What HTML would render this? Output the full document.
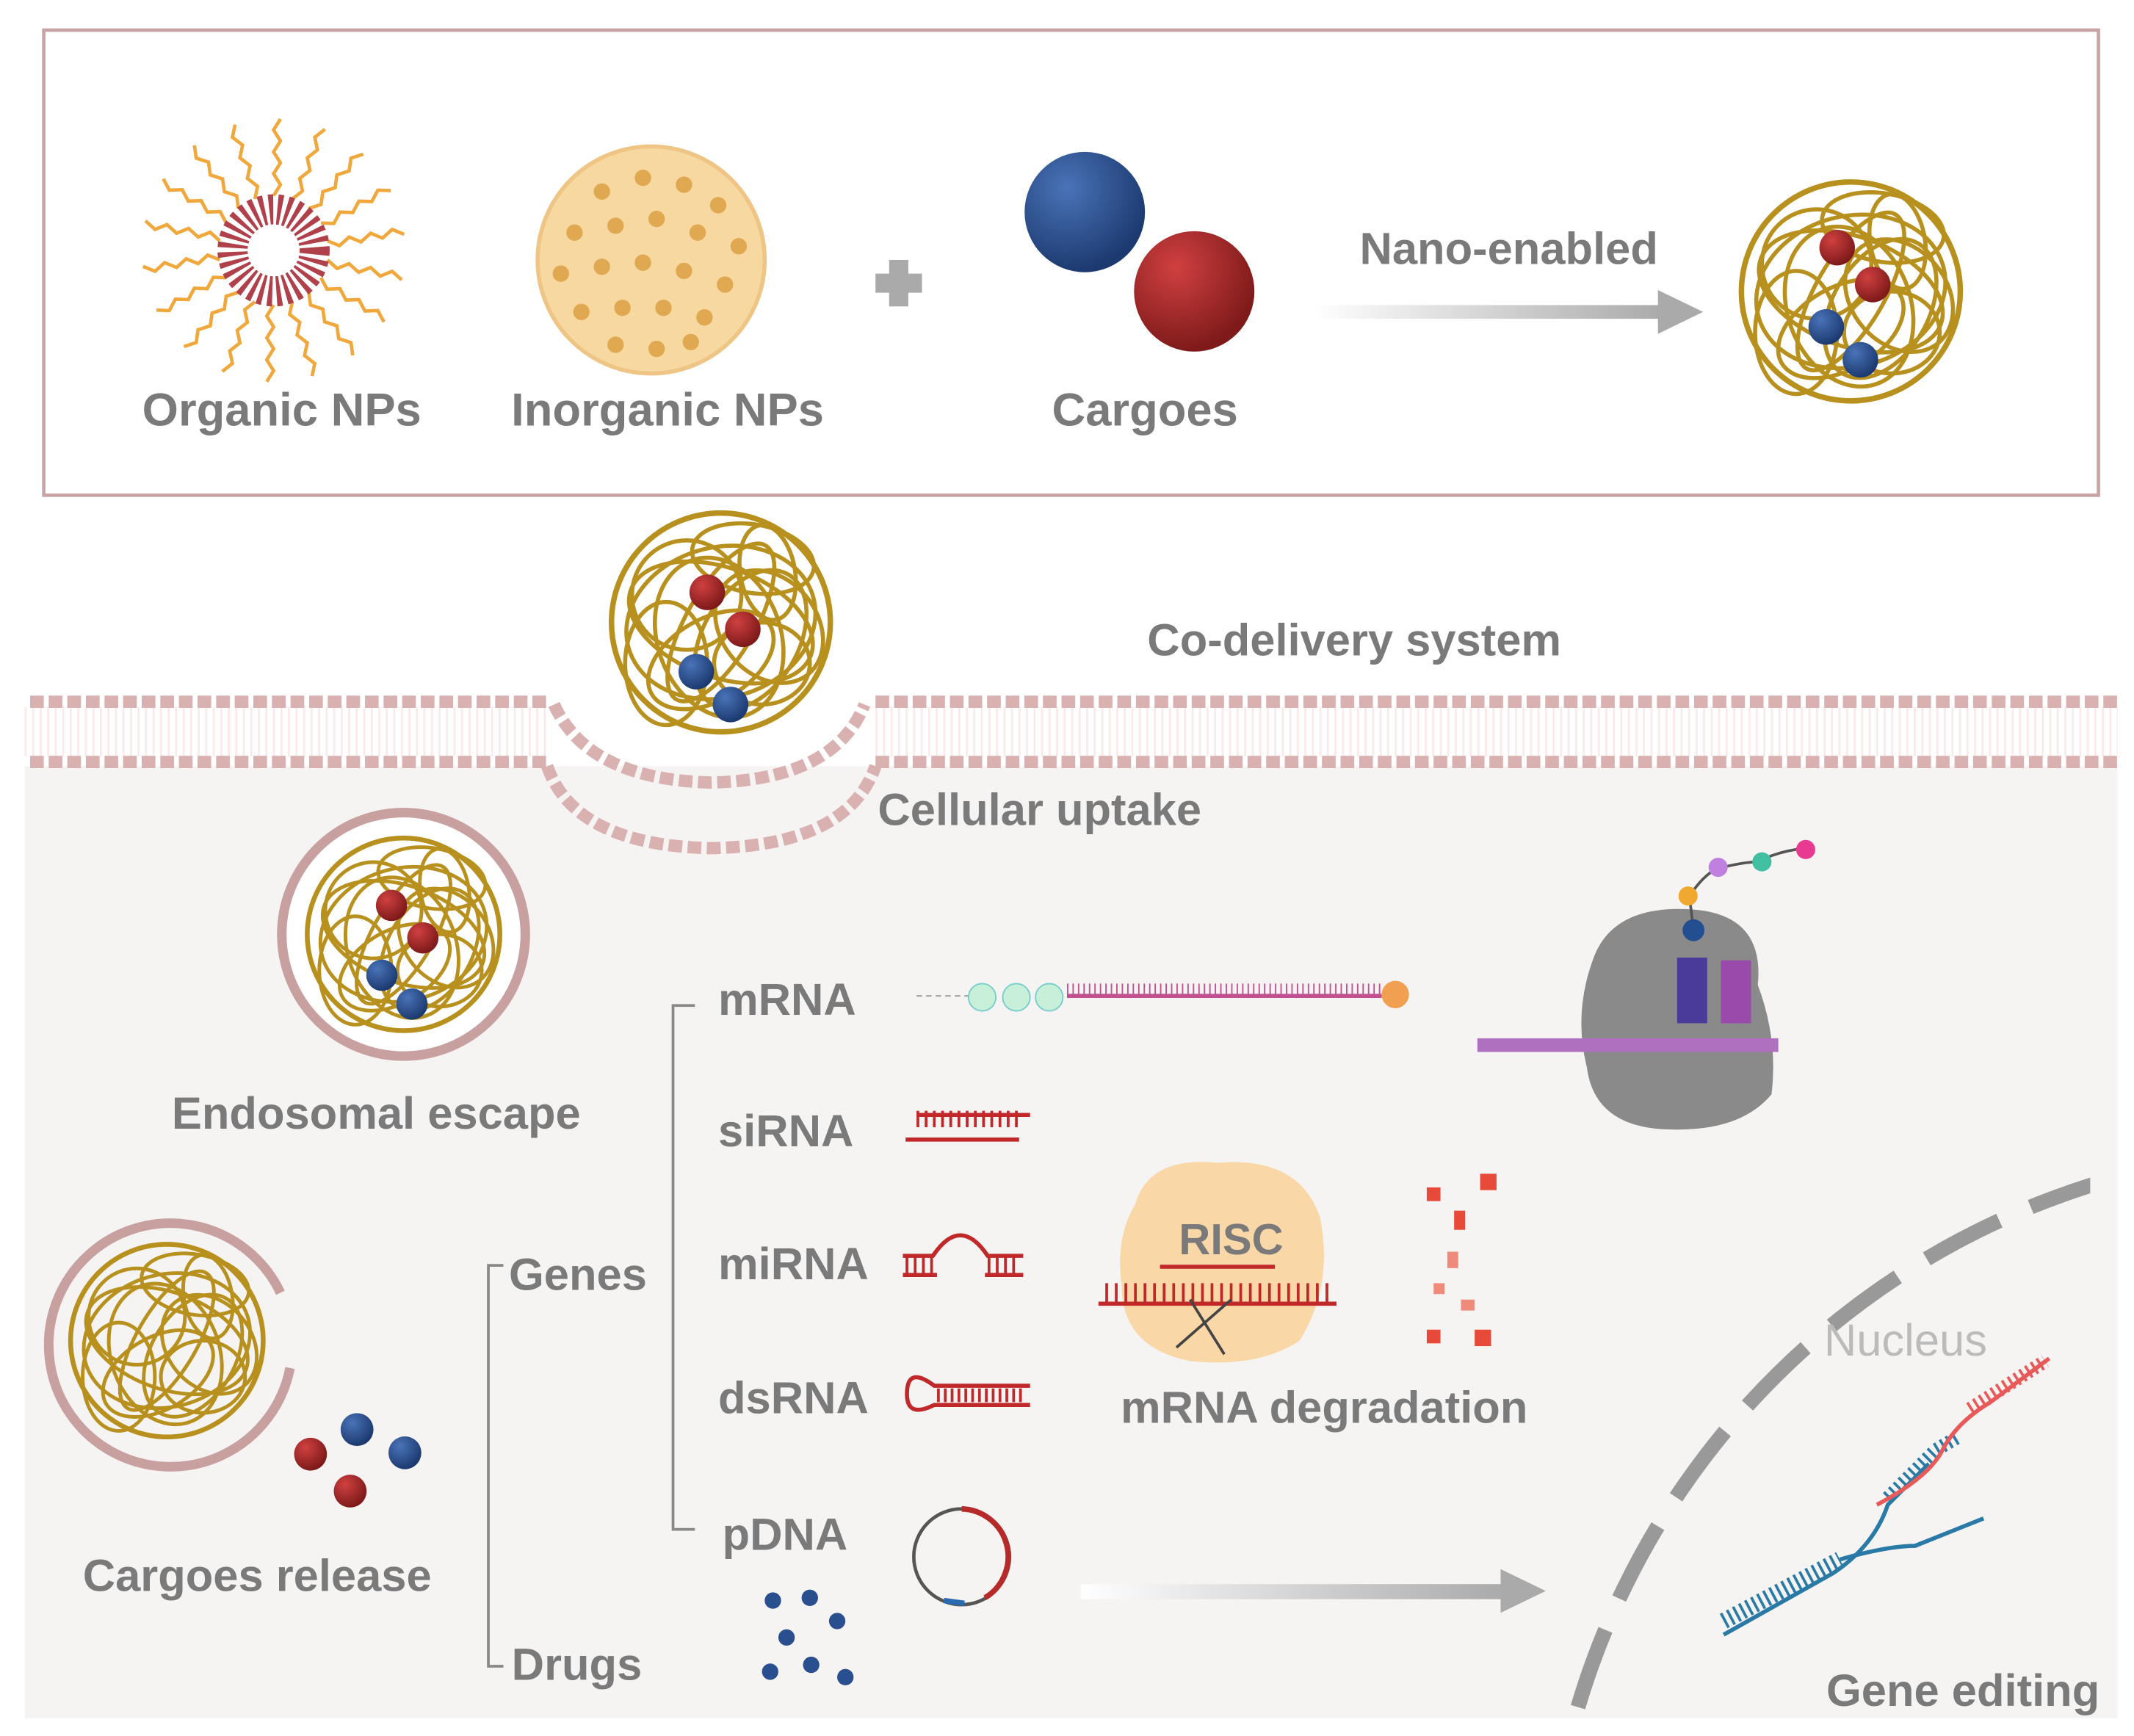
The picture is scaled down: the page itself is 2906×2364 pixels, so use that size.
<!DOCTYPE html>
<html><head><meta charset="utf-8">
<style>html,body{margin:0;padding:0;background:#fff;width:2906px;height:2364px;overflow:hidden}svg{display:block;overflow:hidden}
text{font-family:"Liberation Sans",Arial,sans-serif;font-weight:bold;fill:#7a7a7a}</style></head>
<body>
<svg width="2906" height="2364" viewBox="0 0 1560 1269" xmlns="http://www.w3.org/2000/svg">
<defs>
<clipPath id="nc"><rect x="1100" y="800" width="428" height="456"/></clipPath>
<linearGradient id="ag" x1="0" x2="1"><stop offset="0" stop-color="#fff"/><stop offset="1" stop-color="#aaa"/></linearGradient>
<radialGradient id="bs" cx="0.35" cy="0.3" r="0.7"><stop offset="0" stop-color="#4a73b8"/><stop offset="1" stop-color="#1c3a70"/></radialGradient>
<radialGradient id="rs" cx="0.35" cy="0.3" r="0.7"><stop offset="0" stop-color="#d04040"/><stop offset="1" stop-color="#7e1a1a"/></radialGradient>
<g id="np" fill="none" stroke="#b8901e" stroke-width="3">
<circle r="80" stroke-width="4"/>
<ellipse rx="70" ry="40" transform="rotate(20)"/>
<ellipse rx="60" ry="45" transform="rotate(70) translate(10,5)"/>
<ellipse rx="50" ry="30" transform="rotate(-30) translate(-20,20)"/>
<ellipse rx="45" ry="35" transform="rotate(50) translate(25,-25)"/>
<ellipse rx="65" ry="25" transform="rotate(-60)"/>
<ellipse rx="40" ry="40" transform="translate(-25,-20)"/>
<ellipse rx="35" ry="30" transform="translate(30,30)"/>
<ellipse rx="55" ry="35" transform="rotate(120) translate(0,-25)"/>
<ellipse rx="30" ry="45" transform="translate(-40,30)"/>
<ellipse rx="45" ry="25" transform="rotate(10) translate(15,-50)"/>
<ellipse rx="70" ry="55" transform="rotate(-15)"/>
<ellipse rx="35" ry="20" transform="rotate(80) translate(-30,-40)"/>
</g>
<g id="cg">
<circle cx="-10" cy="-32" r="13" fill="url(#rs)"/><circle cx="16" cy="-5" r="13" fill="url(#rs)"/>
<circle cx="-18" cy="26" r="13" fill="url(#bs)"/><circle cx="7" cy="50" r="13" fill="url(#bs)"/>
</g>
</defs>
<rect x="32" y="22" width="1502" height="340" fill="#fff" stroke="#c9a4a4" stroke-width="2.5"/>
<g transform="translate(200,183)" fill="none">
<g stroke="#f0a83c" stroke-width="2.5">
<path d="M0,-40 l5,-8 l-5,-8 l5,-8 l-5,-8 l5,-8 l-5,-8 l5,-8" transform="rotate(0)"/>
<path d="M0,-40 l5,-8 l-5,-8 l5,-8 l-5,-8 l5,-8 l-5,-8 l5,-8" transform="rotate(20)"/>
<path d="M0,-40 l5,-8 l-5,-8 l5,-8 l-5,-8 l5,-8 l-5,-8 l5,-8" transform="rotate(40)"/>
<path d="M0,-40 l5,-8 l-5,-8 l5,-8 l-5,-8 l5,-8 l-5,-8 l5,-8" transform="rotate(60)"/>
<path d="M0,-40 l5,-8 l-5,-8 l5,-8 l-5,-8 l5,-8 l-5,-8 l5,-8" transform="rotate(80)"/>
<path d="M0,-40 l5,-8 l-5,-8 l5,-8 l-5,-8 l5,-8 l-5,-8 l5,-8" transform="rotate(100)"/>
<path d="M0,-40 l5,-8 l-5,-8 l5,-8 l-5,-8 l5,-8 l-5,-8 l5,-8" transform="rotate(120)"/>
<path d="M0,-40 l5,-8 l-5,-8 l5,-8 l-5,-8 l5,-8 l-5,-8 l5,-8" transform="rotate(140)"/>
<path d="M0,-40 l5,-8 l-5,-8 l5,-8 l-5,-8 l5,-8 l-5,-8 l5,-8" transform="rotate(160)"/>
<path d="M0,-40 l5,-8 l-5,-8 l5,-8 l-5,-8 l5,-8 l-5,-8 l5,-8" transform="rotate(180)"/>
<path d="M0,-40 l5,-8 l-5,-8 l5,-8 l-5,-8 l5,-8 l-5,-8 l5,-8" transform="rotate(200)"/>
<path d="M0,-40 l5,-8 l-5,-8 l5,-8 l-5,-8 l5,-8 l-5,-8 l5,-8" transform="rotate(220)"/>
<path d="M0,-40 l5,-8 l-5,-8 l5,-8 l-5,-8 l5,-8 l-5,-8 l5,-8" transform="rotate(240)"/>
<path d="M0,-40 l5,-8 l-5,-8 l5,-8 l-5,-8 l5,-8 l-5,-8 l5,-8" transform="rotate(260)"/>
<path d="M0,-40 l5,-8 l-5,-8 l5,-8 l-5,-8 l5,-8 l-5,-8 l5,-8" transform="rotate(280)"/>
<path d="M0,-40 l5,-8 l-5,-8 l5,-8 l-5,-8 l5,-8 l-5,-8 l5,-8" transform="rotate(300)"/>
<path d="M0,-40 l5,-8 l-5,-8 l5,-8 l-5,-8 l5,-8 l-5,-8 l5,-8" transform="rotate(320)"/>
<path d="M0,-40 l5,-8 l-5,-8 l5,-8 l-5,-8 l5,-8 l-5,-8 l5,-8" transform="rotate(340)"/>
</g>
<circle r="30" stroke="#b0404a" stroke-width="22" stroke-dasharray="3 3"/>
</g>
<circle cx="476" cy="190" r="83" fill="#f6d8a0" stroke="#eec585" stroke-width="3"/>
<g fill="#e0a850">
<circle cx="440" cy="140" r="6"/><circle cx="470" cy="130" r="6"/><circle cx="500" cy="135" r="6"/><circle cx="525" cy="150" r="6"/>
<circle cx="420" cy="170" r="6"/><circle cx="450" cy="165" r="6"/><circle cx="480" cy="160" r="6"/><circle cx="510" cy="170" r="6"/><circle cx="540" cy="180" r="6"/>
<circle cx="410" cy="200" r="6"/><circle cx="440" cy="195" r="6"/><circle cx="470" cy="192" r="6"/><circle cx="500" cy="198" r="6"/><circle cx="530" cy="208" r="6"/>
<circle cx="425" cy="228" r="6"/><circle cx="455" cy="225" r="6"/><circle cx="485" cy="225" r="6"/><circle cx="515" cy="232" r="6"/>
<circle cx="450" cy="252" r="6"/><circle cx="480" cy="255" r="6"/><circle cx="505" cy="250" r="6"/>
</g>
<path d="M650,190 h14 v10 h10 v14 h-10 v10 h-14 v-10 h-10 v-14 h10z" fill="#aaa"/>
<circle cx="793" cy="155" r="44" fill="url(#bs)"/>
<circle cx="873" cy="213" r="44" fill="url(#rs)"/>
<text x="1103" y="193" font-size="33" text-anchor="middle">Nano-enabled</text>
<rect x="960" y="223" width="255" height="10" fill="url(#ag)"/>
<path d="M1212,212 l33,16 l-33,16z" fill="#aaa"/>
<use href="#np" transform="translate(1353,213)"/>
<use href="#cg" transform="translate(1353,213)"/>
<text x="206" y="311" font-size="34" text-anchor="middle">Organic NPs</text>
<text x="488" y="311" font-size="34" text-anchor="middle">Inorganic NPs</text>
<text x="837" y="311" font-size="34" text-anchor="middle">Cargoes</text>
<rect x="18" y="560" width="1530" height="696" fill="#f6f4f3"/>
<line x1="18" y1="535" x2="400" y2="535" stroke-width="36" stroke="#fbeaea" stroke-dasharray="1.5 4"/>
<line x1="640" y1="535" x2="1548" y2="535" stroke-width="36" stroke="#fbeaea" stroke-dasharray="1.5 4"/>
<line x1="22" y1="513" x2="400" y2="513" stroke="#d9b1b1" stroke-width="9" stroke-dasharray="10 3.6"/>
<line x1="22" y1="557" x2="400" y2="557" stroke="#d9b1b1" stroke-width="9" stroke-dasharray="10 3.6"/>
<line x1="640" y1="513" x2="1548" y2="513" stroke="#d9b1b1" stroke-width="9" stroke-dasharray="10 3.6"/>
<line x1="640" y1="557" x2="1548" y2="557" stroke="#d9b1b1" stroke-width="9" stroke-dasharray="10 3.6"/>
<path d="M405,515 Q430,570 520,572 Q610,570 632,515" fill="none" stroke="#d9b1b1" stroke-width="9" stroke-dasharray="10 4"/>
<path d="M400,560 Q420,618 520,620 Q620,618 640,560" fill="none" stroke="#d9b1b1" stroke-width="9" stroke-dasharray="10 4"/>
<use href="#np" transform="translate(527,455)"/>
<use href="#cg" transform="translate(527,465)"/>
<text x="990" y="479" font-size="33" text-anchor="middle">Co-delivery system</text>
<text x="760" y="603" font-size="33" text-anchor="middle">Cellular uptake</text>
<circle cx="295" cy="683" r="89" fill="#fff" stroke="#c9a0a0" stroke-width="7"/>
<use href="#np" transform="translate(295,683) scale(0.88)"/>
<use href="#cg" transform="translate(295,690) scale(0.88)"/>
<text x="275" y="825" font-size="33" text-anchor="middle">Endosomal escape</text>
<path d="M212,1000 A89,89 0 1 1 205,945" fill="none" stroke="#c9a0a0" stroke-width="7"/>
<use href="#np" transform="translate(122,980) scale(0.88)"/>
<circle cx="227" cy="1063" r="12" fill="url(#rs)"/><circle cx="256" cy="1090" r="12" fill="url(#rs)"/>
<circle cx="261" cy="1045" r="12" fill="url(#bs)"/><circle cx="296" cy="1062" r="12" fill="url(#bs)"/>
<text x="188" y="1163" font-size="33" text-anchor="middle">Cargoes release</text>
<path d="M368,925 h-11 v293 h11" fill="none" stroke="#888" stroke-width="2"/>
<text x="372" y="943" font-size="33">Genes</text>
<text x="374" y="1228" font-size="33">Drugs</text>
<path d="M508,735 h-16 v383 h16" fill="none" stroke="#888" stroke-width="2"/>
<text x="525" y="742" font-size="33">mRNA</text>
<text x="525" y="838" font-size="33">siRNA</text>
<text x="525" y="935" font-size="33">miRNA</text>
<text x="525" y="1033" font-size="33">dsRNA</text>
<text x="528" y="1133" font-size="33">pDNA</text>
<line x1="670" y1="728" x2="710" y2="728" stroke="#999" stroke-dasharray="4 3"/>
<line x1="780" y1="728" x2="1010" y2="728" stroke="#c05090" stroke-width="3"/>
<line x1="780" y1="723" x2="1010" y2="723" stroke="#c05090" stroke-width="8" stroke-dasharray="1 3"/>
<g fill="#c8f0d8" stroke="#7cc"><circle cx="718" cy="729" r="10"/><circle cx="743" cy="729" r="10"/><circle cx="767" cy="729" r="10"/></g>
<circle cx="1020" cy="727" r="10" fill="#f0a050"/>
<path d="M1165,700 Q1180,660 1240,665 Q1290,670 1285,720 Q1300,760 1295,800 Q1270,830 1210,825 Q1165,820 1160,780 Q1150,740 1165,700z" fill="#8a8a8a"/>
<rect x="1226" y="700" width="22" height="48" fill="#4a3a9a"/><rect x="1258" y="702" width="22" height="46" fill="#9a4aaa"/>
<line x1="1080" y1="764" x2="1300" y2="764" stroke="#b070c0" stroke-width="10"/>
<path d="M1238,680 l-3,-25 q10,-15 20,-20 q20,-5 30,-5 q15,-8 35,-10" fill="none" stroke="#555" stroke-width="2"/>
<circle cx="1238" cy="680" r="8" fill="#234e8f"/><circle cx="1234" cy="655" r="7" fill="#f0a830"/>
<circle cx="1256" cy="634" r="7" fill="#c080e0"/><circle cx="1288" cy="630" r="7" fill="#40c0a0"/><circle cx="1320" cy="621" r="7" fill="#e83a90"/>
<g stroke="#c0282a" stroke-width="3" fill="none">
<line x1="662" y1="833" x2="745" y2="833"/><line x1="670" y1="815" x2="753" y2="815"/>
<line x1="670" y1="818" x2="745" y2="818" stroke-width="12" stroke-dasharray="2 4"/>
<path d="M660,932 h25 M720,932 h28 M660,918 h22 q20,-30 40,0 h26"/>
<line x1="662" y1="925" x2="683" y2="925" stroke-width="12" stroke-dasharray="2 4"/><line x1="722" y1="925" x2="745" y2="925" stroke-width="12" stroke-dasharray="2 4"/>
<path d="M753,1013 h-70 q-20,-15 -20,6 q0,18 20,8 h70"/>
<line x1="685" y1="1020" x2="750" y2="1020" stroke-width="10" stroke-dasharray="2 3"/>
</g>
<path d="M830,880 Q840,845 890,850 Q950,845 965,890 Q975,940 950,980 Q920,1000 870,995 Q820,985 820,940 Q815,905 830,880z" fill="#f9d7a6"/>
<text x="900" y="917" font-size="32" text-anchor="middle">RISC</text>
<g stroke="#c0282a" stroke-width="3"><line x1="803" y1="953" x2="977" y2="953"/><line x1="848" y1="926" x2="932" y2="926"/></g>
<line x1="808" y1="945" x2="975" y2="945" stroke="#c0282a" stroke-width="14" stroke-dasharray="2 5"/>
<path d="M860,985 l40,-35 M870,950 l25,40" stroke="#444" stroke-width="2"/>
<g fill="#e84a3a"><rect x="1043" y="868" width="10" height="10"/><rect x="1082" y="858" width="12" height="12"/><rect x="1063" y="885" width="8" height="14"/><rect x="1058" y="915" width="8" height="12" fill="#f08a7a"/><rect x="1048" y="938" width="8" height="8" fill="#f08a7a"/><rect x="1068" y="950" width="10" height="8" fill="#f08a7a"/><rect x="1043" y="972" width="10" height="10"/><rect x="1078" y="972" width="12" height="12"/></g>
<text x="968" y="1040" font-size="33" text-anchor="middle">mRNA degradation</text>
<circle cx="703" cy="1138" r="35" fill="none" stroke="#555" stroke-width="2.5"/>
<path d="M703,1103 A35,35 0 0 1 720,1168" fill="none" stroke="#b82a2a" stroke-width="4"/>
<path d="M690,1170 l15,2" stroke="#2a6ab0" stroke-width="4"/>
<g fill="#2a4f8f"><circle cx="565" cy="1170" r="6"/><circle cx="592" cy="1168" r="6"/><circle cx="575" cy="1197" r="6"/><circle cx="612" cy="1185" r="6"/><circle cx="563" cy="1222" r="6"/><circle cx="593" cy="1217" r="6"/><circle cx="618" cy="1226" r="6"/></g>
<rect x="790" y="1158" width="310" height="11" fill="url(#ag)"/>
<path d="M1097,1147 l33,16 l-33,16z" fill="#aaa"/>
<circle cx="1700" cy="1410" r="570" fill="none" stroke="#999" stroke-width="11" stroke-dasharray="60 25" clip-path="url(#nc)"/>
<text x="1393" y="991" font-size="33" text-anchor="middle" style="font-weight:normal;fill:#bbb">Nucleus</text>
<g fill="none" stroke-width="3">
<path d="M1260,1195 L1340,1150 Q1370,1130 1380,1100 L1410,1070" stroke="#2a7aa8"/>
<path d="M1260,1185 L1345,1140" stroke="#2a7aa8" stroke-width="12" stroke-dasharray="2 3"/>
<path d="M1345,1140 Q1380,1130 1400,1130 L1450,1110" stroke="#2a7aa8"/>
<path d="M1380,1095 Q1400,1075 1415,1060 L1432,1050" stroke="#2a7aa8" stroke-width="10" stroke-dasharray="2 3"/>
<path d="M1372,1100 Q1410,1080 1420,1060 Q1430,1040 1455,1025 L1498,993" stroke="#e85a5a"/>
<path d="M1440,1030 L1495,995" stroke="#e85a5a" stroke-width="10" stroke-dasharray="2 3"/>
</g>
<text x="1435" y="1247" font-size="33" text-anchor="middle">Gene editing</text>
</svg>
</body></html>
